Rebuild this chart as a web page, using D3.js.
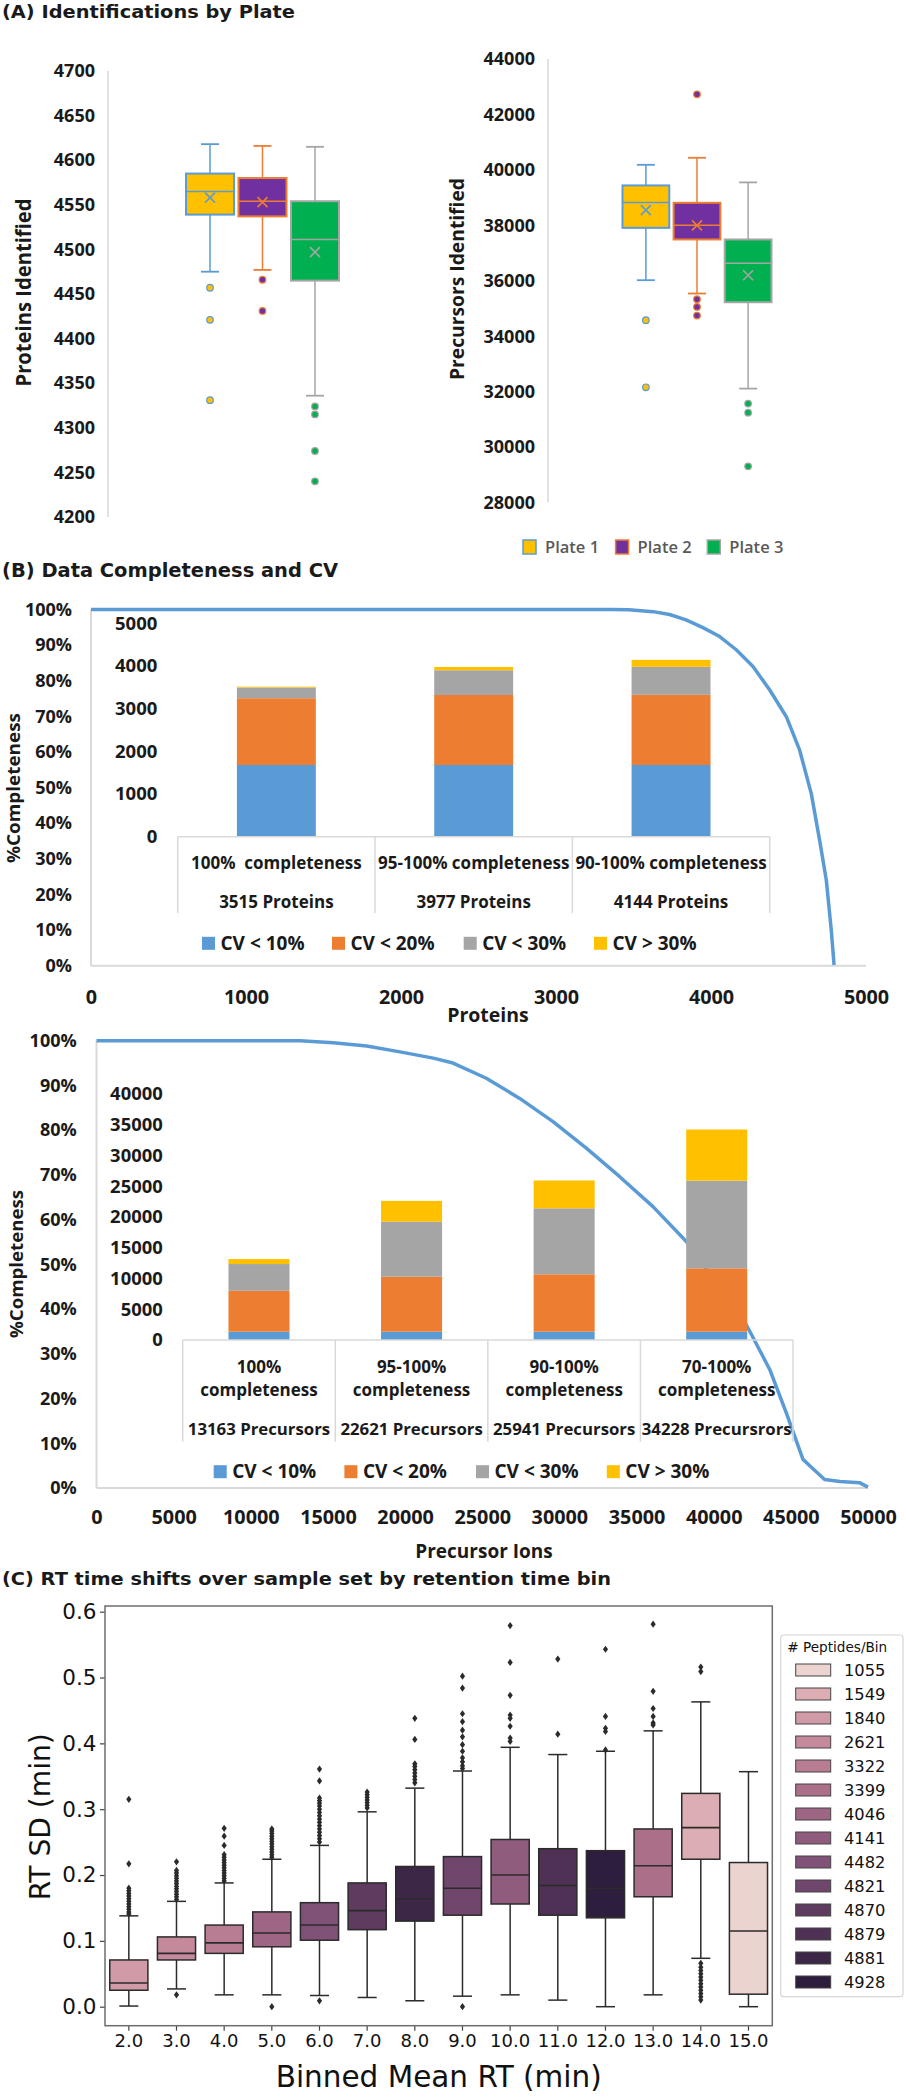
<!DOCTYPE html>
<html><head><meta charset="utf-8">
<script src="https://cdn.jsdelivr.net/npm/d3@7"></script>
<style>body{margin:0;background:#fff} svg{display:block}</style>
</head><body><svg id="c" width="906" height="2100"></svg>
<script>
// ================= DATA =================
// Panel A
const plates = ["Plate 1", "Plate 2", "Plate 3"];
// [whiskerLow, q1, median, q3, whiskerHigh, mean]
const proteinsBox = [
  [4475, 4539, 4565, 4585, 4618, 4558],
  [4477, 4537, 4554, 4580, 4616, 4553],
  [4336, 4465, 4511, 4554, 4615, 4497]
];
const proteinsOutliers = [[4457, 4421, 4331], [4466, 4431], [4324, 4315, 4274, 4240]];
const proteinTicks = [4200, 4250, 4300, 4350, 4400, 4450, 4500, 4550, 4600, 4650, 4700];
const precursorsBox = [
  [36022, 37910, 38827, 39440, 40184, 38549],
  [35541, 37491, 38007, 38813, 40437, 38000],
  [32112, 35227, 36635, 37491, 39549, 36202]
];
const precursorsOutliers = [[34578, 32159], [42726, 35336, 35058, 34747], [31570, 31245, 29307]];
const precursorTicks = [28000, 30000, 32000, 34000, 36000, 38000, 40000, 42000, 44000];

// Panel B
const cvLevels = ["CV < 10%", "CV < 20%", "CV < 30%", "CV > 30%"];
const percentTicks = [0, 10, 20, 30, 40, 50, 60, 70, 80, 90, 100];
const proteinCategories = ["100%  completeness", "95-100% completeness", "90-100% completeness"];
const proteinCounts = ["3515 Proteins", "3977 Proteins", "4144 Proteins"];
const proteinCV10 = [1680, 1680, 1680];
const proteinCV20 = [1565, 1640, 1645];
const proteinCV30 = [250, 580, 655];
const proteinCVgt30 = [20, 77, 164];
const proteinBarTicks = [0, 1000, 2000, 3000, 4000, 5000];
const proteinXTicks = [0, 1000, 2000, 3000, 4000, 5000];
const proteinRank = [0, 3355, 3469, 3626, 3733, 3839, 3948, 4056, 4163, 4271, 4379, 4486, 4572, 4647, 4701, 4744, 4776, 4794];
const proteinCompleteness = [100, 100, 99.9, 99.4, 98.6, 97.1, 94.9, 92.4, 88.7, 84.0, 77.4, 69.9, 60.5, 48.3, 35.2, 24.0, 10.0, 0.2];

const precursorCategories = ["100% completeness", "95-100% completeness", "90-100% completeness", "70-100% completeness"];
const precursorCounts = ["13163 Precursors", "22621 Precursors", "25941 Precursors", "34228 Precursrors"];
const precursorCV10 = [1350, 1350, 1350, 1350];
const precursorCV20 = [6650, 8940, 9330, 10300];
const precursorCV30 = [4350, 8950, 10730, 14255];
const precursorCVgt30 = [813, 3381, 4531, 8323];
const precursorBarTicks = [0, 5000, 10000, 15000, 20000, 25000, 30000, 35000, 40000];
const precursorXTicks = [0, 5000, 10000, 15000, 20000, 25000, 30000, 35000, 40000, 45000, 50000];
const precursorRank = [0, 13190, 15347, 17511, 19669, 21828, 23104, 25262, 27427, 29585, 31743, 33908, 36066, 38224, 42113, 43630, 44705, 45787, 46241, 47187, 48185, 49449, 50000];
const precursorCompleteness = [100, 100, 99.55, 98.8, 97.5, 96.1, 95.0, 91.6, 87.1, 81.9, 76.0, 69.6, 62.9, 55.1, 36.5, 26.5, 16.8, 6.4, 4.9, 1.9, 1.45, 1.2, 0.2];

// Panel C
const bins = ["2.0", "3.0", "4.0", "5.0", "6.0", "7.0", "8.0", "9.0", "10.0", "11.0", "12.0", "13.0", "14.0", "15.0"];
const peptidesPerBin = [1840, 2621, 3322, 4046, 4482, 4870, 4881, 4821, 4141, 4879, 4928, 3399, 1549, 1055];
// [whiskerLow, q1, median, q3, whiskerHigh]
const rtBox = [
  [0.001, 0.025, 0.036, 0.071, 0.138],
  [0.027, 0.071, 0.081, 0.106, 0.160],
  [0.018, 0.081, 0.097, 0.124, 0.188],
  [0.018, 0.091, 0.112, 0.144, 0.224],
  [0.017, 0.101, 0.124, 0.158, 0.245],
  [0.014, 0.117, 0.146, 0.188, 0.296],
  [0.009, 0.130, 0.164, 0.213, 0.332],
  [0.016, 0.139, 0.180, 0.228, 0.358],
  [0.018, 0.156, 0.200, 0.254, 0.394],
  [0.010, 0.139, 0.184, 0.240, 0.383],
  [0.000, 0.135, 0.180, 0.237, 0.388],
  [0.018, 0.167, 0.214, 0.270, 0.419],
  [0.0735, 0.224, 0.272, 0.324, 0.463],
  [0.000, 0.019, 0.115, 0.219, 0.357]
];
const rtOutliers = [
  [0.315, 0.217, 0.180, 0.176, 0.172, 0.168, 0.164, 0.160, 0.156, 0.152, 0.148, 0.144, 0.141],
  [0.018, 0.220, 0.207, 0.203, 0.199, 0.195, 0.191, 0.187, 0.183, 0.179, 0.175, 0.171, 0.167, 0.163],
  [0.271, 0.259, 0.245, 0.231, 0.227, 0.223, 0.219, 0.215, 0.211, 0.207, 0.203, 0.199, 0.195, 0.191],
  [0.000, 0.270, 0.267, 0.263, 0.259, 0.255, 0.251, 0.247, 0.243, 0.239, 0.235, 0.231, 0.227],
  [0.009, 0.361, 0.343, 0.317, 0.313, 0.309, 0.305, 0.300, 0.295, 0.290, 0.285, 0.280, 0.275, 0.270, 0.265, 0.260, 0.255, 0.250],
  [0.326, 0.322, 0.318, 0.314, 0.310, 0.306, 0.302],
  [0.438, 0.406, 0.369, 0.365, 0.360, 0.355, 0.350, 0.345, 0.340],
  [0.000, 0.502, 0.484, 0.445, 0.433, 0.420, 0.410, 0.398, 0.388, 0.378, 0.372, 0.366, 0.362],
  [0.579, 0.523, 0.473, 0.443, 0.438, 0.426, 0.408, 0.403],
  [0.528, 0.414],
  [0.543, 0.441, 0.423, 0.418, 0.390],
  [0.581, 0.479, 0.453, 0.441, 0.431, 0.428],
  [0.516, 0.509, 0.066, 0.060, 0.055, 0.050, 0.045, 0.040, 0.035, 0.030, 0.025, 0.020, 0.015, 0.010],
  []
];
const rtTicks = [0, 0.1, 0.2, 0.3, 0.4, 0.5, 0.6];

// ================= STYLES =================
const plateFill = ["#FFC000", "#7030A0", "#00B050"];
const plateLine = ["#5B9BD5", "#ED7D31", "#A5A5A5"];
const cvColors = ["#5B9BD5", "#ED7D31", "#A5A5A5", "#FFC000"];
const peptidePalette = ["#ebd3cf", "#dcaeb3", "#d09ba6", "#c48a9c", "#b87c93", "#ab6f8a", "#9e6584",
  "#8f5c7e", "#815277", "#70466c", "#5f3b60", "#4f3155", "#3d2746", "#2c1e3c"];
const OS = "'Open Sans', 'Noto Sans', sans-serif";
const DV = "'DejaVu Sans', sans-serif";
const INK = "#1a1a1a";

const svg = d3.select("#c");
svg.append("rect").attr("width", 906).attr("height", 2100).attr("fill", "#fff");

function label(txt, x, y, opts) {
  const o = Object.assign({family: OS, weight: "bold", size: 18, anchor: "start", fill: INK, rotate: 0, len: null}, opts || {});
  const t = svg.append("text")
    .attr("transform", `translate(${x},${y}) rotate(${o.rotate})`)
    .attr("dy", "0.35em")
    .attr("text-anchor", o.anchor)
    .attr("font-family", o.family).attr("font-weight", o.weight).attr("font-size", o.size)
    .attr("fill", o.fill).style("white-space", "pre").text(txt);
  if (o.len) t.attr("textLength", o.len).attr("lengthAdjust", "spacingAndGlyphs");
  return t;
}

// ================= TITLES =================
label("(A) Identifications by Plate", 2, 12, {family: DV, size: 18, len: 293});
label("(B) Data Completeness and CV", 2, 570, {family: DV, size: 19, len: 336});
label("(C) RT time shifts over sample set by retention time bin", 2, 1579, {family: DV, size: 18, len: 609});

// ================= PANEL A =================
function boxPanel(box, outl, ticks, yDom, yRng, xRng, axisX, labelRight) {
  const x = d3.scaleBand().domain(plates).range(xRng).paddingInner(0.085);
  const y = d3.scaleLinear().domain(yDom).range(yRng);
  svg.append("line").attr("x1", axisX).attr("x2", axisX).attr("y1", yRng[1]).attr("y2", yRng[0])
    .attr("stroke", "#d9d9d9").attr("stroke-width", 1.5);
  const ax = svg.append("g").attr("transform", `translate(${axisX},0)`)
    .call(d3.axisLeft(y).tickValues(ticks).tickSize(0).tickPadding(axisX - labelRight).tickFormat(d3.format("d")));
  ax.select(".domain").remove();
  ax.selectAll("text").attr("font-family", OS).attr("font-weight", "bold").attr("font-size", 18).attr("fill", INK);
  const bw = x.bandwidth();
  plates.forEach((p, i) => {
    const [lo, q1, med, q3, hi, mean] = box[i];
    const cx = x(p) + bw / 2;
    const g = svg.append("g");
    const col = plateLine[i];
    g.append("line").attr("x1", cx).attr("x2", cx).attr("y1", y(hi)).attr("y2", y(q3)).attr("stroke", col).attr("stroke-width", 1.5);
    g.append("line").attr("x1", cx).attr("x2", cx).attr("y1", y(q1)).attr("y2", y(lo)).attr("stroke", col).attr("stroke-width", 1.5);
    [hi, lo].forEach(v => g.append("line").attr("x1", cx - 9).attr("x2", cx + 9).attr("y1", y(v)).attr("y2", y(v)).attr("stroke", col).attr("stroke-width", 1.8));
    g.append("rect").attr("x", x(p)).attr("y", y(q3)).attr("width", bw).attr("height", y(q1) - y(q3))
      .attr("fill", plateFill[i]).attr("stroke", col).attr("stroke-width", 2);
    g.append("line").attr("x1", x(p)).attr("x2", x(p) + bw).attr("y1", y(med)).attr("y2", y(med)).attr("stroke", col).attr("stroke-width", 1.5);
    const my = y(mean), s = 5;
    g.append("path").attr("d", `M${cx - s},${my - s}L${cx + s},${my + s}M${cx - s},${my + s}L${cx + s},${my - s}`)
      .attr("stroke", col).attr("stroke-width", 1.6).attr("fill", "none");
    outl[i].forEach(v => g.append("circle").attr("cx", cx).attr("cy", y(v)).attr("r", 3.3)
      .attr("fill", plateFill[i]).attr("stroke", col).attr("stroke-width", 1.2));
  });
}
boxPanel(proteinsBox, proteinsOutliers, proteinTicks, [4200, 4700], [517, 71], [186, 339], 108, 95);
boxPanel(precursorsBox, precursorsOutliers, precursorTicks, [28000, 44000], [502.6, 59], [622.5, 771.5], 548, 535);
label("Proteins Identified", 24, 292.5, {rotate: -90, anchor: "middle", size: 20.5, len: 188});
label("Precursors Identified", 457, 279, {rotate: -90, anchor: "middle", size: 20, len: 202});

// legend A
const legAx = [523, 615.6, 707.3];
plates.forEach((p, i) => {
  svg.append("rect").attr("x", legAx[i]).attr("y", 540).attr("width", 13).attr("height", 14)
    .attr("fill", plateFill[i]).attr("stroke", plateLine[i]).attr("stroke-width", 1.5);
  label(p, legAx[i] + 22, 547, {weight: 600, size: 16.5, fill: "#595959"});
});

// ================= PANEL B =================
function cvLegend(y, xs) {
  cvLevels.forEach((c, i) => {
    svg.append("rect").attr("x", xs[i]).attr("y", y - 6.5).attr("width", 13).attr("height", 13).attr("fill", cvColors[i]);
    label(c, xs[i] + 18.5, y, {size: 19});
  });
}
function stacked(cats, series, band, v) {
  const data = cats.map((c, i) => ({cat: c, s0: series[0][i], s1: series[1][i], s2: series[2][i], s3: series[3][i]}));
  const st = d3.stack().keys(["s0", "s1", "s2", "s3"])(data);
  svg.append("g").selectAll("g").data(st).join("g").attr("fill", (d, i) => cvColors[i])
    .selectAll("rect").data(d => d).join("rect")
    .attr("x", d => band(d.data.cat) + band.bandwidth() * 0.3)
    .attr("width", band.bandwidth() * 0.4)
    .attr("y", d => v(d[1])).attr("height", d => v(d[0]) - v(d[1]));
}
function completenessFrame(xs, ys, xTicks, xTickFmt, labelRight, xLabelOff) {
  const [x0, x1] = xs.range(), [yb, yt] = ys.range();
  svg.append("line").attr("x1", x0).attr("x2", x0).attr("y1", yt).attr("y2", yb).attr("stroke", "#d9d9d9").attr("stroke-width", 2);
  svg.append("line").attr("x1", x0).attr("x2", x1).attr("y1", yb).attr("y2", yb).attr("stroke", "#d9d9d9").attr("stroke-width", 2);
  const ay = svg.append("g").attr("transform", `translate(${x0},0)`)
    .call(d3.axisLeft(ys).tickValues(percentTicks).tickSize(0).tickPadding(x0 - labelRight).tickFormat(d => d + "%"));
  ay.select(".domain").remove();
  ay.selectAll("text").attr("font-family", OS).attr("font-weight", "bold").attr("font-size", 18).attr("fill", INK);
  const ax = svg.append("g").attr("transform", `translate(0,${yb})`)
    .call(d3.axisBottom(xs).tickValues(xTicks).tickSize(0).tickFormat(xTickFmt));
  ax.select(".domain").remove();
  ax.selectAll("text").attr("y", xLabelOff).attr("dy", "0.35em")
    .attr("font-family", OS).attr("font-weight", "bold").attr("font-size", 19.8).attr("fill", INK);
}

// ---- B1 proteins ----
const b1x = d3.scaleLinear().domain([0, 5000]).range([91, 866]);
const b1y = d3.scaleLinear().domain([0, 100]).range([965.7, 609.5]);
completenessFrame(b1x, b1y, proteinXTicks, d3.format("d"), 72, 31);
svg.append("path").datum(proteinRank.map((r, i) => [r, proteinCompleteness[i]]))
  .attr("d", d3.line().x(d => b1x(d[0])).y(d => b1y(d[1])))
  .attr("fill", "none").attr("stroke", "#5B9BD5").attr("stroke-width", 3.5).attr("stroke-linejoin", "round");
const b1band = d3.scaleBand().domain(proteinCategories).range([177.7, 769.7]);
const b1v = d3.scaleLinear().domain([0, 5000]).range([836.7, 623.3]);
stacked(proteinCategories, [proteinCV10, proteinCV20, proteinCV30, proteinCVgt30], b1band, b1v);
const b1a = svg.append("g").attr("transform", "translate(157.3,0)")
  .call(d3.axisLeft(b1v).tickValues(proteinBarTicks).tickSize(0).tickPadding(0).tickFormat(d3.format("d")));
b1a.select(".domain").remove();
b1a.selectAll("text").attr("font-family", OS).attr("font-weight", "bold").attr("font-size", 18.5).attr("fill", INK);
svg.append("line").attr("x1", 177.7).attr("x2", 769.7).attr("y1", 836.7).attr("y2", 836.7).attr("stroke", "#d9d9d9").attr("stroke-width", 1.5);
proteinCategories.concat([null]).forEach((c, i) => {
  const xx = c ? b1band(c) : b1band.range()[1];
  svg.append("line").attr("x1", xx).attr("x2", xx).attr("y1", 836.7).attr("y2", 913).attr("stroke", "#d9d9d9").attr("stroke-width", 1.5);
});
proteinCategories.forEach((c, i) => {
  const cx = b1band(c) + b1band.bandwidth() / 2;
  label(c, cx, 863.3, {anchor: "middle", size: 17});
  label(proteinCounts[i], cx, 901.7, {anchor: "middle", size: 17});
});
cvLegend(943.3, [202, 332, 463.7, 594]);
label("Proteins", 488, 1015, {anchor: "middle", size: 19.5});
label("%Completeness", 14, 788, {rotate: -90, anchor: "middle", size: 18.5, len: 150});

// ---- B2 precursors ----
const b2x = d3.scaleLinear().domain([0, 50000]).range([96.5, 868]);
const b2y = d3.scaleLinear().domain([0, 100]).range([1488, 1040.7]);
completenessFrame(b2x, b2y, precursorXTicks, d3.format("d"), 76.7, 28.7);
svg.append("path").datum(precursorRank.map((r, i) => [r, precursorCompleteness[i]]))
  .attr("d", d3.line().x(d => b2x(d[0])).y(d => b2y(d[1])))
  .attr("fill", "none").attr("stroke", "#5B9BD5").attr("stroke-width", 3.5).attr("stroke-linejoin", "round");
const b2band = d3.scaleBand().domain(precursorCategories).range([182.7, 793]);
const b2v = d3.scaleLinear().domain([0, 40000]).range([1340, 1094]);
stacked(precursorCategories, [precursorCV10, precursorCV20, precursorCV30, precursorCVgt30], b2band, b2v);
const b2a = svg.append("g").attr("transform", "translate(162.7,0)")
  .call(d3.axisLeft(b2v).tickValues(precursorBarTicks).tickSize(0).tickPadding(0).tickFormat(d3.format("d")));
b2a.select(".domain").remove();
b2a.selectAll("text").attr("font-family", OS).attr("font-weight", "bold").attr("font-size", 18.4).attr("fill", INK);
svg.append("line").attr("x1", 182.7).attr("x2", 793).attr("y1", 1340).attr("y2", 1340).attr("stroke", "#d9d9d9").attr("stroke-width", 1.5);
precursorCategories.concat([null]).forEach(c => {
  const xx = c ? b2band(c) : b2band.range()[1];
  svg.append("line").attr("x1", xx).attr("x2", xx).attr("y1", 1340).attr("y2", 1441.7).attr("stroke", "#d9d9d9").attr("stroke-width", 1.5);
});
precursorCategories.forEach((c, i) => {
  const cx = b2band(c) + b2band.bandwidth() / 2;
  const sp = c.indexOf(" ");
  label(c.slice(0, sp), cx, 1366.7, {anchor: "middle", size: 17});
  label(c.slice(sp + 1), cx, 1390, {anchor: "middle", size: 17});
  label(precursorCounts[i], cx, 1429.3, {anchor: "middle", size: 16.8});
});
cvLegend(1471.7, [213.7, 344.4, 476, 606.8]);
label("Precursor Ions", 484, 1551.7, {anchor: "middle", size: 19});
label("%Completeness", 17, 1264, {rotate: -90, anchor: "middle", size: 18.5, len: 148});

// ================= PANEL C =================
const cx = d3.scaleBand().domain(bins).range([105, 772.3]);
const cy = d3.scaleLinear().domain([0, 0.6]).range([2006.7, 1611.7]);
const sortedCounts = peptidesPerBin.slice().sort((a, b) => a - b);
const colorOf = d3.scaleOrdinal().domain(sortedCounts).range(peptidePalette);
const LINE = "#2b2b2b";
const frameTop = 1606, frameBot = 2025.7;
const yAx = svg.append("g").attr("transform", "translate(105,0)")
  .call(d3.axisLeft(cy).tickValues(rtTicks).tickSize(5).tickPadding(3.5).tickFormat(d3.format(".1f")));
yAx.select(".domain").remove();
yAx.selectAll("line").attr("stroke", "#444").attr("stroke-width", 1.2);
yAx.selectAll("text").attr("font-family", DV).attr("font-size", 21.5).attr("fill", "#111");
const xAx = svg.append("g").attr("transform", `translate(0,${frameBot})`)
  .call(d3.axisBottom(cx).tickSize(5));
xAx.select(".domain").remove();
xAx.selectAll("line").attr("stroke", "#444").attr("stroke-width", 1.2);
xAx.selectAll("text").attr("y", 15.5).attr("dy", "0.35em").attr("font-family", DV).attr("font-size", 18).attr("fill", "#111");

const bwC = cx.bandwidth() * 0.8;
bins.forEach((b, i) => {
  const [lo, q1, med, q3, hi] = rtBox[i];
  const x0 = cx(b) + cx.bandwidth() * 0.1, c = cx(b) + cx.bandwidth() / 2;
  const g = svg.append("g");
  g.append("line").attr("x1", c).attr("x2", c).attr("y1", cy(hi)).attr("y2", cy(q3)).attr("stroke", LINE).attr("stroke-width", 1.5);
  g.append("line").attr("x1", c).attr("x2", c).attr("y1", cy(q1)).attr("y2", cy(lo)).attr("stroke", LINE).attr("stroke-width", 1.5);
  [hi, lo].forEach(v => g.append("line").attr("x1", c - bwC / 4).attr("x2", c + bwC / 4).attr("y1", cy(v)).attr("y2", cy(v)).attr("stroke", LINE).attr("stroke-width", 1.5));
  g.append("rect").attr("x", x0).attr("y", cy(q3)).attr("width", bwC).attr("height", cy(q1) - cy(q3))
    .attr("fill", colorOf(peptidesPerBin[i])).attr("stroke", LINE).attr("stroke-width", 1.5);
  g.append("line").attr("x1", x0).attr("x2", x0 + bwC).attr("y1", cy(med)).attr("y2", cy(med)).attr("stroke", LINE).attr("stroke-width", 1.6);
  rtOutliers[i].forEach(v => g.append("path")
    .attr("d", `M${c},${cy(v) - 3.6}L${c + 2.6},${cy(v)}L${c},${cy(v) + 3.6}L${c - 2.6},${cy(v)}Z`)
    .attr("fill", LINE));
});
svg.append("rect").attr("x", 105).attr("y", frameTop).attr("width", 772.3 - 105).attr("height", frameBot - frameTop)
  .attr("fill", "none").attr("stroke", "#6e6e6e").attr("stroke-width", 1.5);
label("RT SD (min)", 40, 1816.7, {family: DV, weight: "normal", rotate: -90, anchor: "middle", size: 29, len: 167, fill: "#111"});
label("Binned Mean RT (min)", 438.7, 2076, {family: DV, weight: "normal", anchor: "middle", size: 31, len: 326, fill: "#111"});

// legend C
svg.append("rect").attr("x", 780.7).attr("y", 1635).attr("width", 122.3).attr("height", 361.7).attr("rx", 3)
  .attr("fill", "#fff").attr("stroke", "#d6d6d6").attr("stroke-width", 1.2);
label("# Peptides/Bin", 787.3, 1647.3, {family: DV, weight: "normal", size: 13.6, fill: "#111"});
const legY = d3.scaleBand().domain(sortedCounts).range([1658, 1658 + 24 * 14]);
sortedCounts.forEach(n => {
  const yy = legY(n) + 12;
  svg.append("rect").attr("x", 795.7).attr("y", yy - 6).attr("width", 35).attr("height", 12)
    .attr("fill", colorOf(n)).attr("stroke", "#444").attr("stroke-width", 1);
  label(String(n), 844, yy, {family: DV, weight: "normal", size: 16.3, fill: "#111"});
});
</script>
</body></html>
